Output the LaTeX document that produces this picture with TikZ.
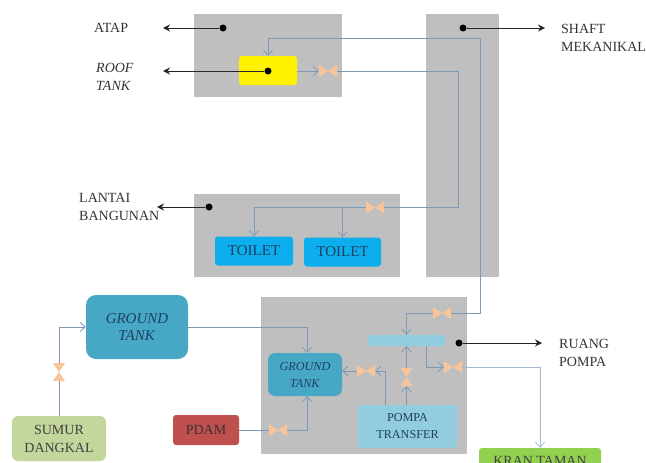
\documentclass[tikz,border=0pt]{standalone}
\usepackage{fontspec}
\setmainfont{Liberation Serif}
\usetikzlibrary{arrows.meta}
\definecolor{abu}{HTML}{BFBFBF}
\definecolor{pipa}{HTML}{7E99B8}
\definecolor{katup}{HTML}{F8C49A}
\definecolor{tulis}{HTML}{1E3F60}
\definecolor{biru}{HTML}{0CAEEE}
\definecolor{tangki}{HTML}{47A8C6}
\definecolor{muda}{HTML}{92CDDF}
\definecolor{sumurhijau}{HTML}{C3D69B}
\definecolor{merah}{HTML}{C0504D}
\definecolor{hijau}{HTML}{92D050}
\tikzset{
  besar/.style={font=\fontsize{14}{18}\selectfont},
  sedang/.style={font=\fontsize{15}{18}\selectfont},
  kecil/.style={font=\fontsize{12.2}{17}\selectfont},
  area/.style={fill=abu, inner sep=0pt},
  kotak/.style={rounded corners=3pt, align=center, inner sep=0pt, text=tulis},
  titik/.style={circle, fill=black, inner sep=0pt, minimum size=7pt},
  ket/.style={besar, align=left, text=black!80, inner sep=0pt},
  pipe/.style={draw=pipa, line width=0.8pt, >={Straight Barb[length=5pt,width=9pt]}},
  garis/.style={draw=black!85, line width=1pt, -{Stealth[length=7pt,width=7pt]}},
  katuph/.style={inner sep=0pt, minimum width=18pt, minimum height=12pt, path picture={
    \fill[katup] (path picture bounding box.north west) -- (path picture bounding box.south east)
      -- (path picture bounding box.north east) -- (path picture bounding box.south west) -- cycle;}},
  katupv/.style={inner sep=0pt, minimum width=12pt, minimum height=18pt, path picture={
    \fill[katup] (path picture bounding box.north west) -- (path picture bounding box.north east)
      -- (path picture bounding box.south west) -- (path picture bounding box.south east) -- cycle;}}
}
\begin{document}
\begin{tikzpicture}[x=1pt,y=-1pt]
\useasboundingbox (0,0) rectangle (646,463);
\clip (0,0) rectangle (646,463);
\node[area, minimum width=148pt, minimum height=83pt] (atap) at (268,55.5) {};
\node[area, minimum width=73pt, minimum height=263pt] (shaft) at (462.5,145.5) {};
\node[area, minimum width=206pt, minimum height=83pt] (lantai) at (297,235.5) {};
\node[area, minimum width=206pt, minimum height=157pt] (ruang) at (364,375.5) {};

\node[kotak, fill=yellow, minimum width=58pt, minimum height=29pt] (rooftank) at (268,70.5) {};
\node[kotak, sedang, fill=biru, minimum width=78pt, minimum height=29pt] (toiletsatu) at (254,251) {TOILET};
\node[kotak, sedang, fill=biru, minimum width=77pt, minimum height=29pt] (toiletdua) at (342.5,252) {TOILET};
\node[kotak, sedang, fill=tangki, rounded corners=10pt, minimum width=102pt, minimum height=64pt] (tankluar) at (137,327) {\textit{GROUND}\\[-1pt] \textit{TANK}};
\node[kotak, kecil, fill=tangki, rounded corners=7pt, minimum width=74pt, minimum height=43pt] (tankdalam) at (305,374.5) {\textit{GROUND}\\ \textit{TANK}};
\node[kotak, fill=muda, minimum width=77pt, minimum height=11pt] (bak) at (406.5,340.5) {};
\node[kotak, kecil, fill=muda, minimum width=99pt, minimum height=43pt] (pompa) at (407.5,426.5) {POMPA\\ TRANSFER};
\node[kotak, besar, fill=sumurhijau, rounded corners=6pt, text=black!75, minimum width=94pt, minimum height=45pt] (sumur) at (59,438.5) {SUMUR\\ DANGKAL};
\node[kotak, besar, fill=merah, text=black!80, minimum width=66pt, minimum height=30pt] (pdam) at (206,430) {PDAM};
\node[kotak, besar, fill=hijau, text=black!75, minimum width=122pt, minimum height=26pt] (kran) at (540,461) {KRAN TAMAN};

\node[katuph] (katuproof) at (328,71) {};
\node[katuph] (katuplantai) at (375,207.5) {};
\node[katuph] (katupshaft) at (442,313) {};
\node[katuph] (katupkiri) at (366,371) {};
\node[katuph] (katupkran) at (453,367) {};
\node[katuph] (katuppdam) at (278,430) {};
\node[katupv] (katuptengah) at (406.5,377) {};
\node[katupv] (katupsumur) at (59,372) {};

\node[titik] (titikatap) at (223,28) {};
\node[titik] (titikroof) at (268,71) {};
\node[titik] (titikshaft) at (463,28) {};
\node[titik] (titiklantai) at (209,207) {};
\node[titik] (titikruang) at (459,343) {};

\node[ket, anchor=west] (ketatap) at (94,28) {ATAP};
\node[ket, anchor=west] (ketroof) at (96,77) {\textit{ROOF}\\ \textit{TANK}};
\node[ket, anchor=west] (ketshaft) at (561,38) {SHAFT\\ MEKANIKAL};
\node[ket, anchor=west] (ketlantai) at (79,207) {LANTAI\\ BANGUNAN};
\node[ket, anchor=west] (ketruang) at (559,353) {RUANG\\ POMPA};

\coordinate (ujungatap) at (163,28);
\coordinate (ujungroof) at (163,71);
\coordinate (ujungshaft) at (545,28);
\coordinate (ujunglantai) at (157,207);
\coordinate (ujungruang) at (542,343);
\coordinate (naik) at (480,38);
\coordinate (turun) at (458,207.5);
\coordinate (baktap) at (426,346);
\coordinate (pompatap) at (385,405);
\coordinate (masukluar) at (307,353);
\coordinate (masukpdam) at (307,396);

\draw[garis] (titikatap) -- (ujungatap);
\draw[garis] (titikroof) -- (ujungroof);
\draw[garis] (titikshaft) -- (ujungshaft);
\draw[garis] (titiklantai) -- (ujunglantai);
\draw[garis] (titikruang) -- (ujungruang);

\draw[pipe,->] (katupshaft.east) -| (naik) -| (rooftank.north);
\draw[pipe,->] (katupshaft.west) -| (bak.north);
\draw[pipe,->] (rooftank.east |- katuproof) -- (katuproof.west);
\draw[pipe] (katuproof.east) -| (turun) -- (katuplantai.east);
\draw[pipe,->] (katuplantai.west) -| (toiletsatu.north);
\draw[pipe,->] (katuplantai.west) -| (toiletdua.north);
\draw[pipe,->] (pompa.north -| katuptengah) -- (katuptengah.south);
\draw[pipe,->] (katuptengah.north) -- (bak.south -| katuptengah);
\draw[pipe,->] (pompatap) |- (katupkiri.east);
\draw[pipe,->] (katupkiri.west) -- (tankdalam.east |- katupkiri);
\draw[pipe,->] (baktap) |- (katupkran.west);
\draw[pipe,->,draw=pipa!70!white] (katupkran.east) -| (kran.north);
\draw[pipe,->] (tankluar.east) -| (masukluar);
\draw[pipe] (pdam.east) -- (katuppdam.west);
\draw[pipe,->] (katuppdam.east) -| (masukpdam);
\draw[pipe] (sumur.north) -- (katupsumur.south);
\draw[pipe,->] (katupsumur.north) |- (tankluar.west);
\end{tikzpicture}
\end{document}
